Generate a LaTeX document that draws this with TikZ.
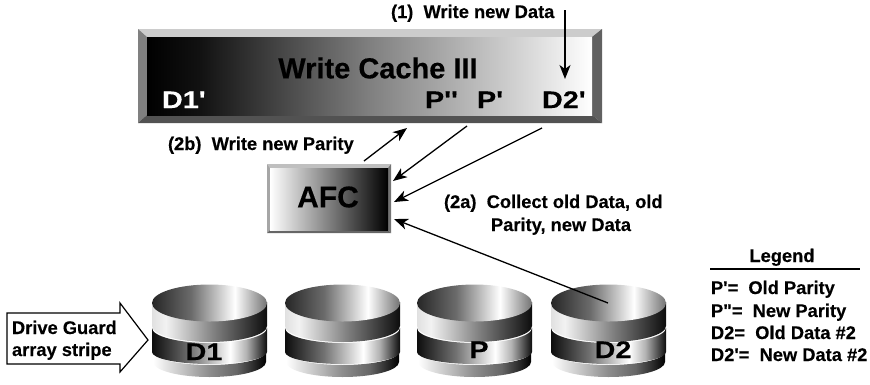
\documentclass[tikz,border=0pt]{standalone}
\usepackage{fontspec}
\newfontfamily\plainfont{Liberation Sans}[FakeBold=0.3]
\newfontfamily\widefont{Liberation Sans}[FakeStretch=1.2,FakeBold=0.3]
\usetikzlibrary{arrows.meta}

% Horizontal ramps for the panels and disk surfaces (TikZ maps a path onto the 25bp-75bp stretch)
\pgfdeclarehorizontalshading{cacheramp}{100bp}{color(0bp)=(black); color(25bp)=(black); color(31bp)=(black!93); color(50bp)=(black!50); color(67bp)=(black!17); color(75bp)=(white); color(100bp)=(white)}
\pgfdeclarehorizontalshading{afcramp}{100bp}{color(0bp)=(white); color(25bp)=(white); color(50bp)=(black!50); color(75bp)=(black); color(100bp)=(black)}
\pgfdeclarehorizontalshading{platter}{100bp}{color(0bp)=(black!85); color(25bp)=(black!85); color(42bp)=(black!58); color(61bp)=(white); color(75bp)=(black!55); color(100bp)=(black!55)}
\pgfdeclarehorizontalshading{bandone}{100bp}{color(0bp)=(black!12); color(25bp)=(black!12); color(31bp)=(black!5); color(52bp)=(black!50); color(75bp)=(black!95); color(100bp)=(black!95)}
\pgfdeclarehorizontalshading{bandtwo}{100bp}{color(0bp)=(black!95); color(25bp)=(black!95); color(42bp)=(black!55); color(59bp)=(white); color(66bp)=(black!30); color(75bp)=(black!95); color(100bp)=(black!95)}
\pgfdeclarehorizontalshading{bandthree}{100bp}{color(0bp)=(white); color(25bp)=(white); color(36bp)=(black!20); color(50bp)=(black!45); color(62bp)=(black!60); color(75bp)=(black); color(100bp)=(black)}

\tikzset{
  x=1pt,y=-1pt,
  every node/.style={inner sep=0pt,outer sep=0pt},
  label text/.style={font=\fontsize{18.3}{20}\selectfont\plainfont\bfseries,anchor=base west},
  wide text/.style={font=\fontsize{24}{28}\selectfont\widefont\bfseries,anchor=base west},
  link/.style={draw=black,line width=1.3pt,-{Stealth[length=14pt,width=11pt,inset=4pt]}},
}

% One disk: #1 is the left edge; three side bands under the top face
\newcommand{\disk}[1]{%
  \begin{scope}[shift={(#1,0)}]
    \path[shading=bandthree] (1,352) arc[start angle=180,end angle=0,x radius=56.5,y radius=13] -- (114,362) arc[start angle=0,end angle=180,x radius=56.5,y radius=15] -- cycle;
    \path[shading=bandtwo] (0,328) arc[start angle=180,end angle=0,x radius=57.5,y radius=15] -- (115,352) arc[start angle=0,end angle=180,x radius=57.5,y radius=12] -- cycle;
    \path[shading=bandone] (0,302) arc[start angle=180,end angle=0,x radius=57.5,y radius=18.5] -- (115,326) arc[start angle=0,end angle=180,x radius=57.5,y radius=16] -- cycle;
    \path[shading=platter] (57.5,303) ellipse[x radius=57.5,y radius=18.5];
  \end{scope}}

\begin{document}
\begin{tikzpicture}
\useasboundingbox (0,0) rectangle (870,384);

% Write cache panel with bevelled border
\node[rectangle,minimum width=464pt,minimum height=94pt,anchor=north west] (cache) at (138,29) {};
\fill[black!20] (138,29) -- (602,29) -- (592,37) -- (147,37) -- cycle;
\fill[black!50] (138,29) -- (147,37) -- (147,115) -- (138,123) -- cycle;
\fill[black!62] (602,29) -- (592,37) -- (592,115) -- (602,123) -- cycle;
\fill[black!68] (138,123) -- (147,115) -- (592,115) -- (602,123) -- cycle;
\path[shading=cacheramp] (147,37) rectangle (592,115);
\node[font=\fontsize{29}{32}\selectfont\plainfont\bfseries] (title) at (378,68) {Write Cache III};
\node[wide text,text=white] (dOne) at (162,108) {D1'};
\node[wide text] (pNew) at (425,108) {P''};
\node[wide text] (pOld) at (477,108) {P'};
\node[wide text] (dTwo) at (542,108) {D2'};

% AFC panel
\node[rectangle,minimum width=124pt,minimum height=69pt,anchor=north west] (afc) at (267,164) {};
\fill[black!25] (267,164) -- (391,164) -- (388,168) -- (270,168) -- cycle;
\fill[black!35] (267,164) -- (270,168) -- (270,230) -- (267,233) -- cycle;
\fill[black!55] (391,164) -- (388,168) -- (388,230) -- (391,233) -- cycle;
\fill[black!60] (267,233) -- (270,230) -- (388,230) -- (391,233) -- cycle;
\path[shading=afcramp] (270,168) rectangle (388,230);
\node[font=\fontsize{30}{34}\selectfont\plainfont\bfseries] (afcText) at (328,197) {AFC};

% Disks of the array stripe
\disk{152}
\disk{285}
\disk{417}
\disk{551}
\node[wide text,anchor=base] (diskA) at (204,360) {D1};
\node[wide text,anchor=base] (diskP) at (479,358) {P};
\node[wide text,anchor=base] (diskD) at (613,358) {D2};

% Free ends of the connectors
\coordinate (writeStart) at (565,10);
\coordinate (writeEnd) at (565,79);
\coordinate (parityOut) at (364,161);
\coordinate (parityIn) at (407,128);
\coordinate (oldParityStart) at (467,126);
\coordinate (oldParityEnd) at (393,181);
\coordinate (newDataStart) at (542,128);
\coordinate (newDataEnd) at (394,202);
\coordinate (oldDataStart) at (608,303);
\coordinate (oldDataEnd) at (394,219);

\draw[link] (writeStart) -- (writeEnd);
\draw[link] (parityOut) -- (parityIn);
\draw[link] (oldParityStart) -- (oldParityEnd);
\draw[link] (newDataStart) -- (newDataEnd);
\draw[link] (oldDataStart) -- (oldDataEnd);

% Step labels
\node[label text] (stepOne) at (391,18) {(1)\ \ Write new Data};
\node[label text] (stepTwoB) at (168,150) {(2b)\ \ Write new Parity};
\node[label text] (stepTwoA) at (444,208) {(2a)\ \ Collect old Data, old};
\node[label text] (stepTwoAb) at (491,231) {Parity, new Data};

% Stripe arrow
\draw[line width=1.2pt,line join=miter,fill=white] (7,313) -- (120,313) -- (120,303) -- (148,340) -- (120,372) -- (120,364) -- (7,364) -- cycle;
\node[label text] (stripeA) at (12,334) {Drive Guard};
\node[label text] (stripeB) at (12,356) {array stripe};

% Legend
\node[label text,anchor=base] (legendHead) at (782,262) {Legend};
\coordinate (ruleL) at (710,269);
\coordinate (ruleR) at (860,269);
\draw[line width=1.2pt] (ruleL) -- (ruleR);
\node[label text] (legA) at (711,294) {P'=\ \ Old Parity};
\node[label text] (legB) at (711,317) {P"=\ \ New Parity};
\node[label text] (legC) at (711,339) {D2=\ \ Old Data \#2};
\node[label text] (legD) at (711,361) {D2'=\ \ New Data \#2};
\end{tikzpicture}
\end{document}
